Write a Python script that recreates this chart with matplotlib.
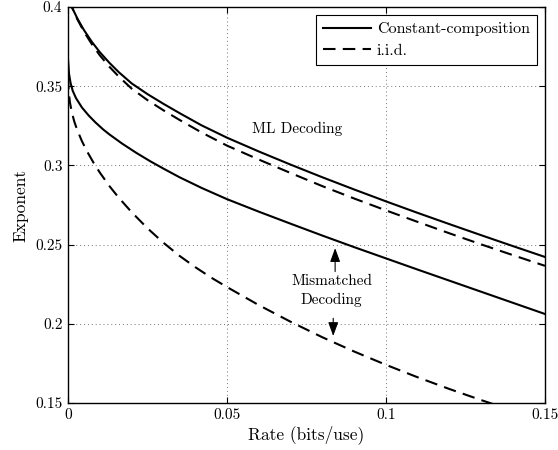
import numpy as np
import matplotlib
matplotlib.use('Agg')
import matplotlib.pyplot as plt

plt.rcParams['font.family'] = ['cmr10', 'DejaVu Serif']
plt.rcParams['mathtext.fontset'] = 'cm'
plt.rcParams['axes.unicode_minus'] = False

# ML decoding, constant-composition
ml_cc_x = [0.0, 0.0012, 0.003, 0.005, 0.0075, 0.01, 0.013, 0.016, 0.02, 0.025,
           0.03, 0.035, 0.042, 0.05, 0.06, 0.07, 0.08, 0.09, 0.1, 0.11, 0.12,
           0.13, 0.14, 0.15]
ml_cc_y = [0.406, 0.400, 0.3925, 0.3855, 0.378, 0.3715, 0.3648, 0.3588, 0.3518,
           0.3450, 0.3389, 0.3331, 0.3253, 0.3175, 0.3088, 0.3005, 0.2925,
           0.2848, 0.2773, 0.2700, 0.2629, 0.2559, 0.2490, 0.2422]

# ML decoding, i.i.d.
ml_iid_x = [0.0, 0.0012, 0.003, 0.005, 0.0075, 0.01, 0.013, 0.016, 0.02, 0.025,
            0.03, 0.035, 0.042, 0.05, 0.06, 0.07, 0.08, 0.09, 0.1, 0.11, 0.12,
            0.13, 0.14, 0.15]
ml_iid_y = [0.406, 0.400, 0.392, 0.3845, 0.3765, 0.3695, 0.3623, 0.356, 0.3485,
            0.3412, 0.3348, 0.3288, 0.3208, 0.3125, 0.3037, 0.2952, 0.2869,
            0.2791, 0.2716, 0.2643, 0.2571, 0.2501, 0.2433, 0.2366]

# Mismatched decoding, constant-composition
mm_cc_x = [0.0, 0.0003, 0.0008, 0.0015, 0.0025, 0.0044, 0.0065, 0.0086, 0.011,
           0.013, 0.017, 0.0215, 0.0258, 0.03, 0.035, 0.042, 0.05, 0.06, 0.07,
           0.08, 0.09, 0.1, 0.11, 0.12, 0.13, 0.14, 0.15]
mm_cc_y = [0.367, 0.358, 0.352, 0.347, 0.3425, 0.3365, 0.3315, 0.3272, 0.3228,
           0.3196, 0.3138, 0.3079, 0.3027, 0.2980, 0.2926, 0.2858, 0.2787,
           0.2708, 0.2632, 0.2557, 0.2484, 0.2413, 0.2342, 0.2272, 0.2202,
           0.2132, 0.2062]

# Mismatched decoding, i.i.d.
mm_iid_x = [0.0, 0.0002, 0.0006, 0.0012, 0.002, 0.003, 0.0044, 0.006, 0.008,
            0.01, 0.013, 0.016, 0.02, 0.025, 0.03, 0.035, 0.04, 0.045, 0.05,
            0.06, 0.07, 0.08, 0.09, 0.1, 0.11, 0.12, 0.13, 0.14]
mm_iid_y = [0.356, 0.3468, 0.3398, 0.3335, 0.3275, 0.3218, 0.3152, 0.3088,
            0.3018, 0.2955, 0.2870, 0.2795, 0.2705, 0.2603, 0.2512, 0.2430,
            0.2358, 0.2292, 0.2232, 0.2118, 0.2013, 0.1915, 0.1825, 0.1741,
            0.1662, 0.1588, 0.1518, 0.1451]

xticks = [0, 0.05, 0.1, 0.15]
xtick_labels = ['0', '0.05', '0.1', '0.15']
yticks = [0.15, 0.2, 0.25, 0.3, 0.35, 0.4]
ytick_labels = ['0.15', '0.2', '0.25', '0.3', '0.35', '0.4']

fig = plt.figure(figsize=(5.58, 4.5), dpi=100)
ax = fig.add_axes([0.1219, 0.1044, 0.8548, 0.88])

# curves (MATLAB-like dashes)
dash = (6, 3.5)
ax.plot(ml_cc_x, ml_cc_y, 'k-', lw=1.5, label='Constant-composition')
ax.plot(ml_iid_x, ml_iid_y, 'k--', lw=1.5, dashes=dash, label='i.i.d.')
ax.plot(mm_cc_x, mm_cc_y, 'k-', lw=1.5)
ax.plot(mm_iid_x, mm_iid_y, 'k--', lw=1.5, dashes=dash)

ax.set_xlim(0, 0.15)
ax.set_ylim(0.15, 0.4)
ax.set_xticks(xticks)
ax.set_xticklabels(xtick_labels)
ax.set_yticks(yticks)
ax.set_yticklabels(ytick_labels)
ax.tick_params(direction='in', top=True, right=True, length=4, width=0.8,
               labelsize=11, pad=4)
for s in ax.spines.values():
    s.set_linewidth(1.0)
ax.grid(True, linestyle=(0, (1, 3)), color='0.45', lw=0.7)

ax.set_xlabel('Rate (bits/use)', fontsize=12.5, labelpad=2)
ax.set_ylabel('Exponent', fontsize=12.5, labelpad=5)

# annotations
ax.text(0.072, 0.3228, 'ML Decoding', fontsize=11, ha='center', va='center')
ax.text(0.0829, 0.2272, 'Mismatched', fontsize=11, ha='center', va='center')
ax.text(0.0829, 0.2150, 'Decoding', fontsize=11, ha='center', va='center')

arrow = dict(arrowstyle='-|>,head_length=0.6,head_width=0.22', color='k',
             lw=0.8, mutation_scale=14, shrinkA=0, shrinkB=0)
ax.annotate('', xy=(0.0840, 0.2478), xytext=(0.0840, 0.2330), arrowprops=arrow)
ax.annotate('', xy=(0.0834, 0.1923), xytext=(0.0834, 0.2035), arrowprops=arrow)

leg = ax.legend(loc='upper right', fontsize=11.5, frameon=True, fancybox=False,
                framealpha=1, edgecolor='k', borderpad=0.45, handlelength=3.0,
                labelspacing=0.45, borderaxespad=0.5, handletextpad=0.35)
leg.get_frame().set_linewidth(0.8)

fig.savefig('out.png', dpi=100)
